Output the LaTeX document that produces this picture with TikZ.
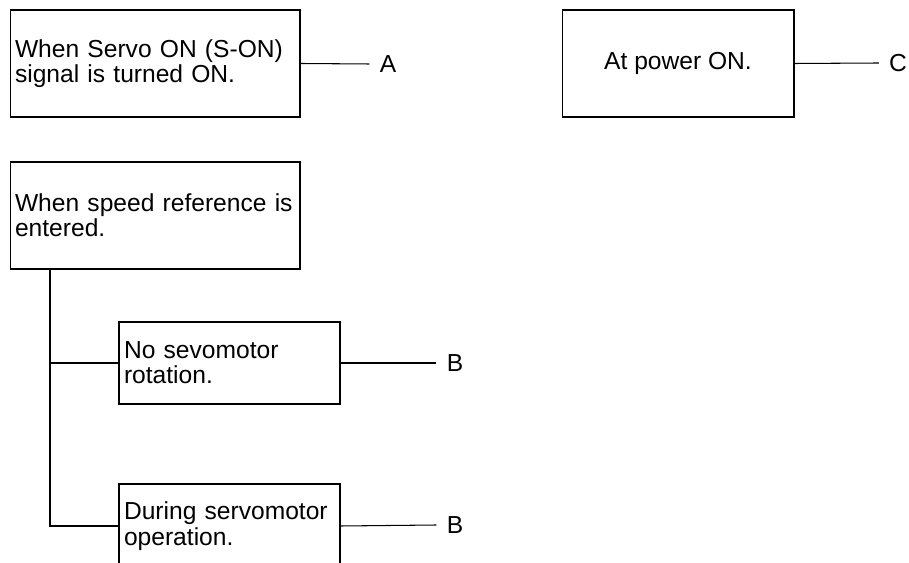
\documentclass[tikz,border=0pt]{standalone}
\usepackage{fontspec}
\setmainfont{Liberation Sans}
\usepackage{tikz}
\newcommand{\flowfont}{\fontsize{14}{14.4}\selectfont}

\begin{document}
\begin{tikzpicture}[
  x=0.02cm, y=-0.02cm,
  every node/.style={font=\flowfont},
  box/.style={draw,rectangle,line width=0.6pt,inner xsep=0.1cm,inner ysep=0pt,align=left},
  widebox/.style={box,text width=5.6cm,minimum height=2.14cm},
  smallbox/.style={box,text width=4.22cm},
  lab/.style={inner sep=0.2cm},
  wire/.style={line width=0.6pt}
]
\useasboundingbox (0,0) rectangle (909,563);
\clip (0,0) rectangle (909,563);

\node[widebox] (servo) at (155,63.5) {When Servo ON (S-ON)\\signal is turned ON.};
\node[box,align=center,minimum width=4.64cm,minimum height=2.14cm] (power) at (678,63.5) {At power ON.};
\node[widebox] (speed) at (155,215.5) {When speed reference is\\entered.};
\node[smallbox,minimum height=1.64cm] (norot) at (229.5,363) {No sevomotor\\rotation.};
\node[smallbox,minimum height=1.68cm] (during) at (229.5,526) {During servomotor\\operation.};

\node[lab] (labA) at (388,64) {A};
\node[lab] (labC) at (898,63) {C};
\node[lab] (labB1) at (455,363) {B};
\node[lab] (labB2) at (455,525) {B};

\coordinate (trunk) at (50,269);

\draw[wire] (servo.east) -- (labA.west);
\draw[wire] (power.east) -- (labC.west);
\draw[wire] (norot.east) -- (labB1.west);
\draw[wire] (during.east) -- (labB2.west);
\draw[wire] (trunk) |- (during.west);
\draw[wire] (norot.west) -- (norot.west -| trunk);

\end{tikzpicture}
\end{document}
